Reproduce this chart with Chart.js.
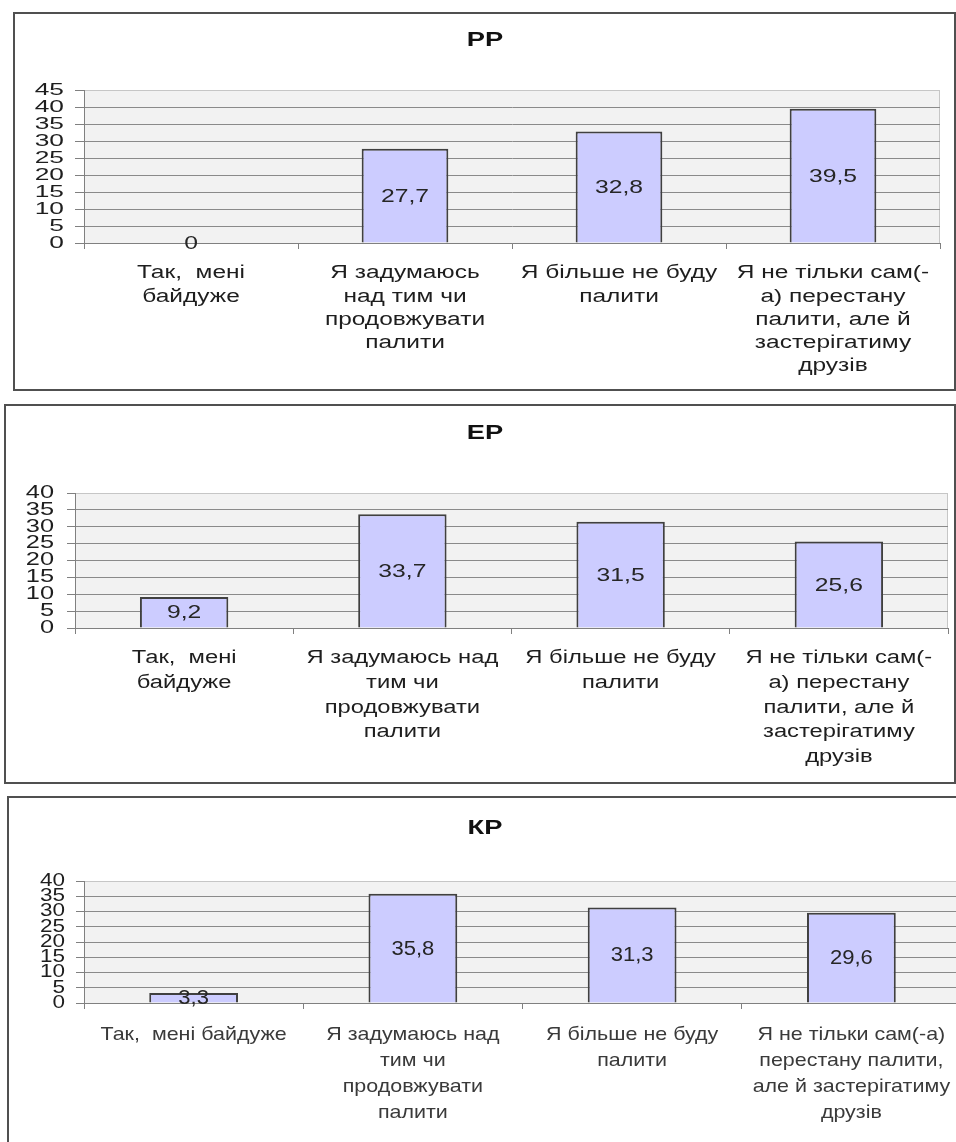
<!DOCTYPE html>
<html>
<head>
<meta charset="utf-8">
<script src="https://cdn.jsdelivr.net/npm/chart.js@4"></script>
<style>
html, body { margin: 0; padding: 0; overflow: hidden; background: #fff; width: 956px; height: 1142px; }
.box { position: absolute; border: 2px solid #505050; box-sizing: border-box; overflow: hidden; background: #fff; }
.box canvas { position: absolute; left: 0; top: 0; }
</style>
</head>
<body>
<div class="box" style="left:13px;top:12px;width:943px;height:379px;"><canvas id="c1" width="939" height="375"></canvas></div>
<div class="box" style="left:4px;top:404px;width:952px;height:380px;"><canvas id="c2" width="948" height="376"></canvas></div>
<div class="box" style="left:7px;top:796px;width:990px;height:360px;"><canvas id="c3" width="980" height="350"></canvas></div>
<script>
// ---------- data ----------
const TITLE_1 = 'РР';
const TITLE_2 = 'ЕР';
const TITLE_3 = 'КР';

const CATEGORIES_1 = [
  ['Так,  мені', 'байдуже'],
  ['Я задумаюсь', 'над тим чи', 'продовжувати', 'палити'],
  ['Я більше не буду', 'палити'],
  ['Я не тільки сам(-', 'а) перестану', 'палити, але й', 'застерігатиму', 'друзів']
];
const CATEGORIES_2 = [
  ['Так,  мені', 'байдуже'],
  ['Я задумаюсь над', 'тим чи', 'продовжувати', 'палити'],
  ['Я більше не буду', 'палити'],
  ['Я не тільки сам(-', 'а) перестану', 'палити, але й', 'застерігатиму', 'друзів']
];
const CATEGORIES_3 = [
  ['Так,  мені байдуже'],
  ['Я задумаюсь над', 'тим чи', 'продовжувати', 'палити'],
  ['Я більше не буду', 'палити'],
  ['Я не тільки сам(-а)', 'перестану палити,', 'але й застерігатиму', 'друзів']
];

const VALUES_1 = [0, 27.7, 32.8, 39.5];
const VALUES_2 = [9.2, 33.7, 31.5, 25.6];
const VALUES_3 = [3.3, 35.8, 31.3, 29.6];

const Y_MAX_1 = 45;
const Y_MAX_2 = 40;
const Y_MAX_3 = 40;
const Y_STEP = 5;

// ---------- helpers ----------
const FONT = '"Liberation Sans", Arial, Helvetica, sans-serif';

function patchCtx(ctx) {
  if (ctx.__patched) return;
  const orig = ctx.fillText;
  ctx.fillText = function (text, x, y, maxWidth) {
    const s = ctx.__sx || 1;
    if (s === 1) {
      return maxWidth === undefined ? orig.call(ctx, text, x, y) : orig.call(ctx, text, x, y, maxWidth);
    }
    ctx.save();
    ctx.translate(x, 0);
    ctx.scale(s, 1);
    if (maxWidth === undefined) orig.call(ctx, text, 0, y);
    else orig.call(ctx, text, 0, y, maxWidth / s);
    ctx.restore();
  };
  ctx.__patched = true;
}

function wrapDraw(obj, name, s) {
  if (!obj || obj['__w_' + name]) return;
  const orig = obj[name];
  obj[name] = function (...a) {
    const c = this.ctx;
    c.__sx = s;
    try { return orig.apply(this, a); } finally { c.__sx = 1; }
  };
  obj['__w_' + name] = true;
}

const stretchPlugin = {
  id: 'stretch',
  afterLayout(chart, args, o) {
    patchCtx(chart.ctx);
    wrapDraw(chart.scales.x, 'drawLabels', o.x);
    wrapDraw(chart.scales.y, 'drawLabels', o.y);
    if (chart.titleBlock) wrapDraw(chart.titleBlock, 'draw', o.title);
  }
};

const plotBg = {
  id: 'plotBg',
  beforeDraw(chart) {
    const { ctx, chartArea: a } = chart;
    ctx.save();
    ctx.fillStyle = '#f2f2f2';
    ctx.fillRect(a.left, a.top, a.right - a.left, a.bottom - a.top);
    ctx.strokeStyle = '#c6c6c6';
    ctx.lineWidth = 1;
    ctx.strokeRect(Math.round(a.left) + 0.5, Math.round(a.top) + 0.5, Math.round(a.right - a.left) - 1, Math.round(a.bottom - a.top));
    ctx.restore();
  }
};

const valueLabels = {
  id: 'valueLabels',
  afterDatasetsDraw(chart, args, o) {
    const ctx = chart.ctx;
    const meta = chart.getDatasetMeta(0);
    const data = chart.data.datasets[0].data;
    ctx.save();
    ctx.font = o.size + 'px ' + FONT;
    ctx.fillStyle = o.color;
    ctx.textAlign = 'center';
    ctx.textBaseline = 'middle';
    ctx.__sx = o.sx;
    meta.data.forEach((bar, i) => {
      const p = bar.getProps(['x', 'y', 'base'], true);
      ctx.fillText(String(data[i]).replace('.', ','), p.x, (p.y + p.base) / 2 + 1);
    });
    ctx.__sx = 1;
    ctx.restore();
  }
};

function makeChart(id, title, labels, values, yMax, L) {
  return new Chart(document.getElementById(id), {
    type: 'bar',
    data: {
      labels: labels,
      datasets: [{
        data: values,
        backgroundColor: '#ccccff',
        borderColor: '#404040',
        borderWidth: 2,
        barPercentage: 0.405,
        categoryPercentage: 1
      }]
    },
    options: {
      responsive: false,
      animation: false,
      devicePixelRatio: 1,
      layout: { padding: { left: L.padL, right: L.padR, top: 0, bottom: 0 } },
      plugins: {
        legend: { display: false },
        tooltip: { enabled: false },
        title: {
          display: true, text: title, color: '#111',
          font: { family: FONT, size: 21, weight: 'bold', lineHeight: 1.2 },
          padding: { top: L.titleTop, bottom: L.titleBottom }
        },
        valueLabels: { size: L.vSize, sx: L.vSx, color: '#262626' },
        stretch: { x: L.xSx, y: L.ySx, title: L.tSx }
      },
      scales: {
        x: {
          grid: { display: true, drawOnChartArea: false, drawTicks: true, tickLength: 6, color: '#808080', offset: true },
          border: { display: true, color: '#808080', width: 1 },
          ticks: {
            autoSkip: false, maxRotation: 0, minRotation: 0, padding: L.xPad, color: L.xColor,
            font: { family: FONT, size: L.xSize, lineHeight: L.xLH }
          },
          afterFit(s) { s.height = L.xH; s.paddingLeft = 0; s.paddingRight = 0; }
        },
        y: {
          min: 0, max: yMax,
          grid: {
            color: (c) => (c.tick && c.tick.value === yMax) ? '#c6c6c6' : '#8a8a8a',
            tickColor: '#808080', tickLength: L.yTick, drawTicks: true
          },
          border: { display: true, color: '#808080', width: 1 },
          ticks: {
            stepSize: Y_STEP, autoSkip: false, padding: L.yPad, color: '#1e1e1e',
            font: { family: FONT, size: L.ySize, lineHeight: 1 }
          },
          afterFit(s) { s.width = L.yW; s.paddingTop = 0; s.paddingBottom = 0; }
        }
      }
    },
    plugins: [plotBg, valueLabels, stretchPlugin]
  });
}

makeChart('c1', TITLE_1, CATEGORIES_1, VALUES_1, Y_MAX_1, {
  padL: 15, padR: 14, yW: 54, xH: 146, titleTop: 13.4, titleBottom: 37.4,
  xPad: 13, xSize: 18, xLH: 1.28, xColor: '#1e1e1e', xSx: 1.36,
  yTick: 9, yPad: 11, ySize: 17, ySx: 1.55,
  vSize: 19, vSx: 1.3, tSx: 1.3
});
makeChart('c2', TITLE_2, CATEGORIES_2, VALUES_2, Y_MAX_2, {
  padL: 16, padR: 6, yW: 53, xH: 154, titleTop: 14.4, titleBottom: 47.4,
  xPad: 12, xSize: 18, xLH: 1.37, xColor: '#1e1e1e', xSx: 1.32,
  yTick: 8, yPad: 13, ySize: 17.5, ySx: 1.45,
  vSize: 19, vSx: 1.3, tSx: 1.3
});
makeChart('c3', TITLE_3, CATEGORIES_3, VALUES_3, Y_MAX_3, {
  padL: 0, padR: 28, yW: 75, xH: 145, titleTop: 17.4, titleBottom: 40.4,
  xPad: 13, xSize: 19, xLH: 1.37, xColor: '#3a3a3a', xSx: 1.13,
  yTick: 8, yPad: 11, ySize: 18, ySx: 1.25,
  vSize: 19.5, vSx: 1.13, tSx: 1.3
});
</script>
</body>
</html>
